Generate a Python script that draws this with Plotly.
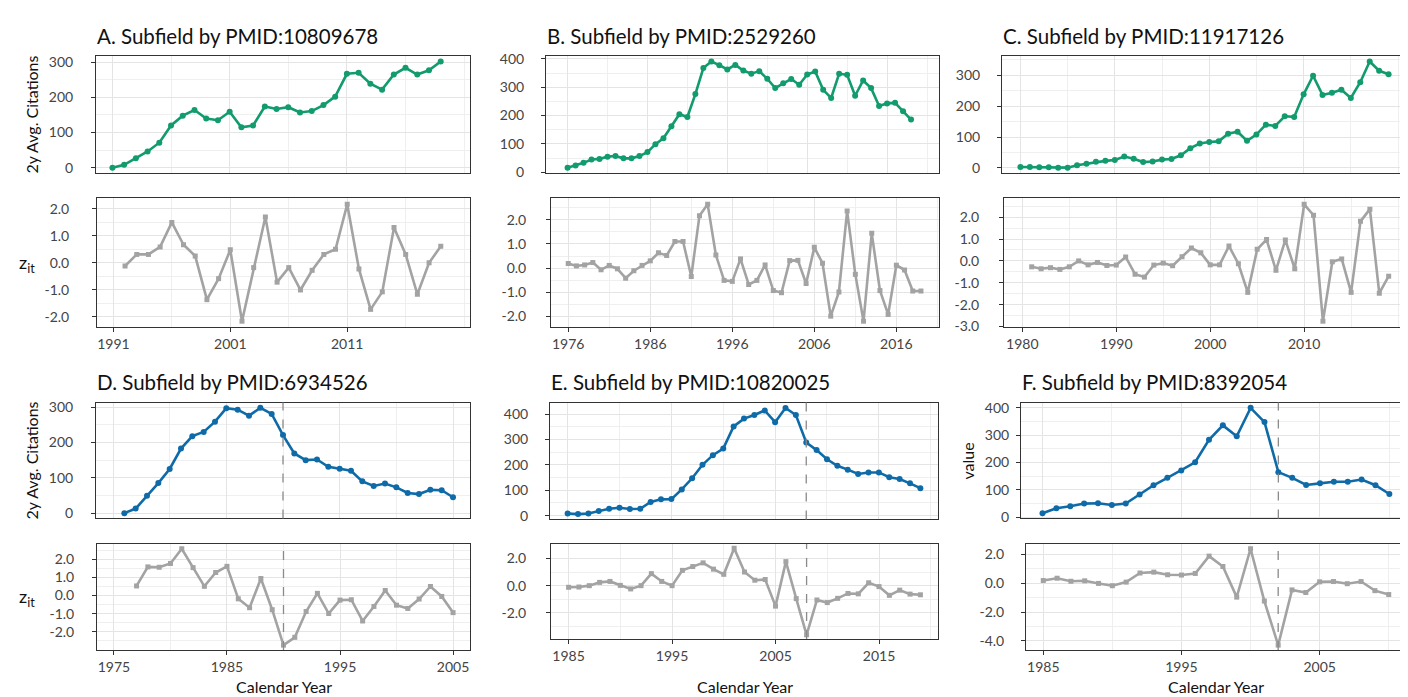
import plotly.graph_objects as go

W, H = 1408, 697

# ---------------- data ----------------
years_a = list(range(1991, 2020))
cit_a = [0, 8, 27, 46, 71, 120, 148, 164, 140, 135, 159, 115, 120, 174, 167, 172, 157, 161, 178, 202,
         267, 270, 239, 222, 265, 284, 265, 277, 302]
zyears_a = list(range(1992, 2020))
z_a = [-0.12, 0.31, 0.31, 0.59, 1.5, 0.67, 0.25, -1.37, -0.59, 0.48, -2.17, -0.18, 1.7, -0.72, -0.18,
       -1.01, -0.28, 0.31, 0.5, 2.17, -0.23, -1.73, -1.08, 1.31, 0.31, -1.17, 0.0, 0.61]

years_b = list(range(1976, 2020))
cit_b = [16, 24, 33, 45, 47, 55, 57, 49, 49, 57, 71, 99, 120, 162, 205, 195, 276, 368, 391, 378, 363, 379,
         359, 348, 357, 330, 297, 314, 329, 309, 345, 356, 291, 262, 348, 344, 270, 324, 297, 234, 243, 245,
         215, 186]
zyears_b = list(range(1976, 2020))
z_b = [0.19, 0.09, 0.13, 0.23, -0.07, 0.11, -0.03, -0.42, -0.11, 0.11, 0.3, 0.63, 0.52, 1.1, 1.1, -0.35,
       2.17, 2.64, 0.54, -0.51, -0.55, 0.38, -0.68, -0.51, 0.13, -0.93, -1.02, 0.31, 0.32, -0.64, 0.86, 0.2,
       -1.99, -0.99, 2.36, -0.26, -2.2, 1.44, -0.93, -1.92, 0.12, -0.08, -0.95, -0.95]

years_c = list(range(1980, 2020))
cit_c = [3, 3, 2, 2, 1, 1, 9, 14, 20, 23, 26, 37, 30, 19, 21, 27, 29, 41, 64, 79, 84, 86, 111, 117, 88, 108,
         140, 136, 167, 165, 238, 298, 236, 243, 253, 226, 277, 344, 314, 303]
zyears_c = list(range(1981, 2020))
z_c = [-0.27, -0.36, -0.31, -0.39, -0.27, 0.0, -0.18, -0.07, -0.21, -0.19, 0.18, -0.61, -0.74, -0.19, -0.1,
       -0.22, 0.19, 0.59, 0.37, -0.18, -0.18, 0.68, -0.13, -1.44, 0.53, 0.98, -0.43, 0.96, -0.36, 2.59, 2.09,
       -2.76, -0.04, 0.09, -1.44, 1.81, 2.37, -1.48, -0.7]

years_d = list(range(1976, 2006))
cit_d = [0, 13, 49, 85, 125, 183, 218, 230, 259, 297, 293, 276, 298, 281, 221, 169, 150, 152, 131, 126, 120,
         90, 77, 84, 73, 57, 54, 66, 65, 45]
zyears_d = list(range(1977, 2006))
z_d = [0.53, 1.58, 1.56, 1.77, 2.58, 1.54, 0.51, 1.27, 1.61, -0.18, -0.67, 0.94, -0.78, -2.73, -2.3, -0.88,
       0.12, -0.99, -0.25, -0.23, -1.4, -0.6, 0.28, -0.53, -0.71, -0.19, 0.5, -0.05, -0.94]
event_d = 1990

years_e = list(range(1985, 2020))
cit_e = [8, 6, 8, 18, 27, 31, 26, 27, 54, 64, 65, 103, 147, 200, 238, 264, 351, 382, 396, 414, 368, 424, 396,
         288, 258, 222, 196, 181, 164, 170, 170, 151, 144, 127, 108]
zyears_e = list(range(1985, 2020))
z_e = [-0.12, -0.1, 0.0, 0.24, 0.31, 0.02, -0.24, 0.0, 0.88, 0.31, 0.0, 1.12, 1.4, 1.67, 1.21, 0.83, 2.74, 1.0,
       0.4, 0.45, -1.5, 1.76, -0.95, -3.6, -1.05, -1.24, -0.93, -0.57, -0.6, 0.21, -0.07, -0.71, -0.33, -0.62,
       -0.67]
event_e = 2008

years_f = list(range(1985, 2011))
cit_f = [15, 33, 40, 50, 51, 45, 50, 83, 117, 144, 171, 201, 283, 336, 296, 400, 348, 165, 144, 118, 124, 130,
         130, 138, 117, 85]
zyears_f = list(range(1985, 2011))
z_f = [0.18, 0.34, 0.13, 0.16, -0.02, -0.18, 0.07, 0.7, 0.76, 0.58, 0.56, 0.67, 1.87, 1.15, -0.97, 2.38, -1.24,
       -4.29, -0.47, -0.65, 0.09, 0.11, -0.04, 0.11, -0.52, -0.79]
event_f = 2002

titles = ["A. Subfield by PMID:10809678", "B. Subfield by PMID:2529260", "C. Subfield by PMID:11917126",
          "D. Subfield by PMID:6934526", "E. Subfield by PMID:10820025", "F. Subfield by PMID:8392054"]

# ---------------- layout config ----------------
FONT = "Lato"
GREEN = "#119b6e"
BLUE = "#0f6ba8"
GRAY = "#a3a3a3"

panels = [
    dict(x=years_a, y=cit_a, zx=zyears_a, z=z_a, color=GREEN, event=None,
         top=(88, 462, 43, 162), bot=(89, 462, 188, 319), so_top=15, so_bot=20,
         xr_top=(1989.6, 2021.5), xr_bot=(1989.6, 2021.5), xt=(1991, 10),
         yt_top=[0, 100, 200, 300], yt_bot=[-2, -1, 0, 1, 2], ylab="2y Avg. Citations", zlab=True, xlab=False),
    dict(x=years_b, y=cit_b, zx=zyears_b, z=z_b, color=GREEN, event=None,
         top=(538, 931, 43, 162), bot=(543, 931, 188, 319), so_top=14, so_bot=17,
         xr_top=(1973.3, 2022.5), xr_bot=(1973.9, 2021.2), xt=(1976, 10),
         yt_top=[0, 100, 200, 300, 400], yt_bot=[-2, -1, 0, 1, 2], ylab=None, zlab=False, xlab=False),
    dict(x=years_c, y=cit_c, zx=zyears_c, z=z_c, color=GREEN, event=None,
         top=(994, 1399, 43, 162), bot=(996, 1399, 188, 319), so_top=14, so_bot=17,
         xr_top=(1978.05, 2020.95), xr_bot=(1978.05, 2020.95), xt=(1980, 10),
         yt_top=[0, 100, 200, 300], yt_bot=[-3, -2, -1, 0, 1, 2], ylab=None, zlab=False, xlab=False),
    dict(x=years_d, y=cit_d, zx=zyears_d, z=z_d, color=BLUE, event=event_d,
         top=(88, 462, 396, 514), bot=(89, 462, 540, 648), so_top=15, so_bot=15,
         xr_top=(1973.5, 2006.5), xr_bot=(1973.5, 2006.5), xt=(1975, 10),
         yt_top=[0, 100, 200, 300], yt_bot=[-2, -1, 0, 1, 2], ylab="2y Avg. Citations", zlab=True, xlab=True),
    dict(x=years_e, y=cit_e, zx=zyears_e, z=z_e, color=BLUE, event=event_e,
         top=(542, 930, 396, 515), bot=(543, 930, 540, 637), so_top=14, so_bot=17,
         xr_top=(1983.3, 2020.7), xr_bot=(1983.3, 2020.7), xt=(1985, 10),
         yt_top=[0, 100, 200, 300, 400], yt_bot=[-2, 0, 2], ylab=None, zlab=False, xlab=True),
    dict(x=years_f, y=cit_f, zx=zyears_f, z=z_f, color=BLUE, event=event_f,
         top=(1013, 1398, 396, 514), bot=(1018, 1398, 540, 648), so_top=4, so_bot=14,
         xr_top=(1983.45, 2011.2), xr_bot=(1983.75, 2011.25), xt=(1985, 10),
         yt_top=[0, 100, 200, 300, 400], yt_bot=[-4, -2, 0, 2], ylab="value", zlab=False, xlab=True),
]


def xdom(x0, x1):
    return [x0 / W, x1 / W]


def ydom(y0, y1):
    return [1 - y1 / H, 1 - y0 / H]


def expand(vals, f=0.05):
    lo, hi = min(vals), max(vals)
    d = (hi - lo) * f
    return [lo - d, hi + d]


axis_common = dict(showline=True, mirror=True, linecolor="#333333", linewidth=1,
                   showgrid=True, gridcolor="#e4e4e4", gridwidth=1, zeroline=False,
                   ticks="outside", ticklen=4, tickwidth=1, tickcolor="#333333",
                   tickfont=dict(family=FONT, size=14, color="#444444"))

fig = go.Figure()
layout = dict(width=W, height=H, margin=dict(l=0, r=0, t=0, b=0),
              paper_bgcolor="white", plot_bgcolor="white", showlegend=False)
annotations = []
shapes = []

for i, p in enumerate(panels):
    nt, nb = 2 * i + 1, 2 * i + 2
    xt_name, yt_name = f"x{nt}", f"y{nt}"
    xb_name, yb_name = f"x{nb}", f"y{nb}"

    fig.add_trace(go.Scatter(x=p["x"], y=p["y"], mode="lines+markers", xaxis=xt_name, yaxis=yt_name,
                             line=dict(color=p["color"], width=2.6),
                             marker=dict(color=p["color"], size=6, symbol="circle")))
    fig.add_trace(go.Scatter(x=p["zx"], y=p["z"], mode="lines+markers", xaxis=xb_name, yaxis=yb_name,
                             line=dict(color=GRAY, width=2.6),
                             marker=dict(color=GRAY, size=5, symbol="square")))

    t0, t1, ty0, ty1 = p["top"]
    b0, b1, by0, by1 = p["bot"]
    tick0, dt = p["xt"]
    xr_top = list(p["xr_top"])
    xr_bot = list(p["xr_bot"])
    majors = [v for v in range(tick0, max(p["x"]) + 1, dt)]

    minor_x = dict(tick0=tick0, dtick=dt / 2, showgrid=True, gridcolor="#efefef", gridwidth=0.7)
    layout["xaxis" + (str(nt) if nt > 1 else "")] = dict(
        axis_common, domain=xdom(t0, t1), anchor=yt_name, range=xr_top,
        tickmode="array", tickvals=majors, showticklabels=False, ticks="", minor=minor_x)
    layout["xaxis" + str(nb)] = dict(
        axis_common, domain=xdom(b0, b1), anchor=yb_name, range=xr_bot,
        tickmode="array", tickvals=majors, ticktext=[str(v) for v in majors], minor=minor_x)

    yt = p["yt_top"]
    layout["yaxis" + (str(nt) if nt > 1 else "")] = dict(
        axis_common, domain=ydom(ty0, ty1), anchor=xt_name, range=expand(p["y"]),
        tickmode="array", tickvals=yt, ticktext=[str(v) for v in yt], ticklabelstandoff=p["so_top"],
        minor=dict(tick0=50, dtick=100, showgrid=True, gridcolor="#efefef", gridwidth=0.7))
    yb = p["yt_bot"]
    ystep = yb[1] - yb[0]
    layout["yaxis" + str(nb)] = dict(
        axis_common, domain=ydom(by0, by1), anchor=xb_name, range=expand(p["z"]),
        tickmode="array", tickvals=yb, ticktext=[f"{v:.1f}" for v in yb], ticklabelstandoff=p["so_bot"],
        minor=dict(tick0=ystep / 2, dtick=ystep, showgrid=True, gridcolor="#efefef", gridwidth=0.7))

    # title
    annotations.append(dict(text=titles[i], x=(t0 - 1) / W, y=1 - (ty0 - 21) / H, xref="paper", yref="paper",
                            xanchor="left", yanchor="middle", showarrow=False,
                            font=dict(family=FONT, size=20.5, color="#111111")))
    if p["ylab"]:
        xc = 24 if i < 5 else 960
        annotations.append(dict(text=p["ylab"], x=xc / W, y=1 - ((ty0 + ty1) / 2) / H, xref="paper",
                                yref="paper", xanchor="center", yanchor="middle", textangle=-90,
                                showarrow=False, font=dict(family=FONT, size=16, color="#111111")))
    if p["zlab"]:
        annotations.append(dict(text="z<sub>it</sub>", x=19 / W, y=1 - ((by0 + by1) / 2 + 1) / H,
                                xref="paper", yref="paper", xanchor="center", yanchor="middle",
                                showarrow=False, font=dict(family=FONT, size=18, color="#111111")))
    if p["xlab"]:
        annotations.append(dict(text="Calendar Year", x=((b0 + b1) / 2) / W, y=1 - 685 / H, xref="paper",
                                yref="paper", xanchor="center", yanchor="middle", showarrow=False,
                                font=dict(family=FONT, size=16, color="#111111")))
    if p["event"] is not None:
        for xn, yn in ((xt_name, yt_name), (xb_name, yb_name)):
            shapes.append(dict(type="line", xref=xn, yref=yn + " domain", x0=p["event"], x1=p["event"],
                               y0=0, y1=1, line=dict(color="#8a8a8a", width=1.3, dash="dash")))

layout["annotations"] = annotations
layout["shapes"] = shapes
fig.update_layout(**layout)
fig.write_html("out.html")
